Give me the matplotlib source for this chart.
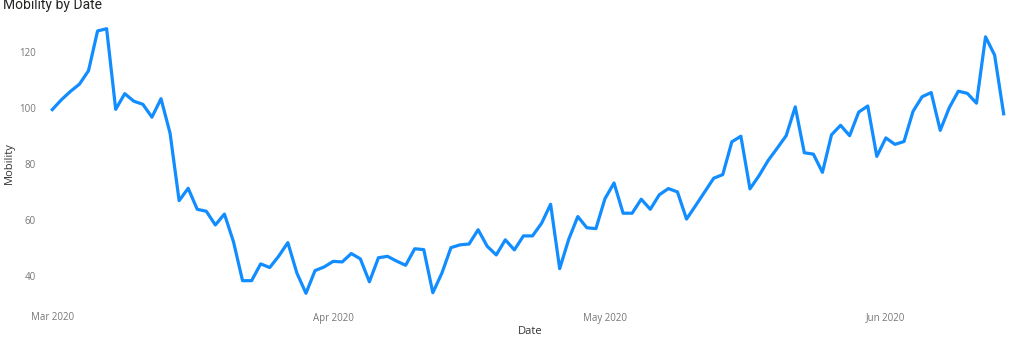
import numpy as np
import pandas as pd
import matplotlib
matplotlib.use("Agg")
import matplotlib.pyplot as plt
import matplotlib.dates as mdates

# daily mobility index, 1 Mar 2020 .. 14 Jun 2020
start = "2020-03-01"
mobility = [
    99.3, 102.8, 105.8, 108.4, 113.2, 127.4, 128.2, 99.4, 105.0, 102.3,
    101.2, 96.6, 103.2, 90.9, 66.8, 71.2, 63.7, 63.0, 58.1, 62.0,
    52.1, 38.2, 38.2, 44.2, 42.9, 47.0, 51.8, 40.9, 33.7, 41.8,
    43.1, 45.1, 44.9, 47.9, 46.0, 37.8, 46.4, 46.9, 45.2, 43.7,
    49.6, 49.3, 33.9, 40.9, 50.0, 51.0, 51.3, 56.4, 50.5, 47.4,
    52.8, 49.2, 54.2, 54.2, 58.7, 65.5, 42.5, 53.0, 61.1, 57.1,
    56.8, 67.5, 73.1, 62.3, 62.3, 67.3, 63.7, 68.9, 71.1, 69.9,
    60.2, 65.0, 69.9, 74.8, 76.1, 87.8, 89.8, 71.0, 75.7, 81.1,
    85.5, 90.0, 100.3, 83.9, 83.4, 76.9, 90.3, 93.7, 90.0, 98.4,
    100.6, 82.6, 89.2, 86.9, 87.9, 98.7, 103.9, 105.4, 91.9, 100.0,
    105.9, 105.1, 101.6, 125.3, 118.8, 97.8,
]
dates = pd.date_range(start, periods=len(mobility), freq="D")
yticks = [40, 60, 80, 100, 120]

fig = plt.figure(figsize=(10.23, 3.43), dpi=100)
ax = fig.add_axes([50 / 1023, 1 - 300 / 343, 960 / 1023, 278 / 343])

ax.plot(dates, mobility, color="#118DFF", lw=2.3, solid_joinstyle="round")

d0 = mdates.date2num(dates[0])
ax.set_xlim(d0 - 0.25, d0 + 105.7)
ax.set_ylim(31.3, 130.6)

ax.xaxis.set_major_locator(mdates.MonthLocator())
ax.xaxis.set_major_formatter(mdates.DateFormatter("%b %Y"))
ax.set_yticks(yticks)

for s in ax.spines.values():
    s.set_visible(False)
ax.tick_params(axis="both", length=0, labelsize=7, labelcolor="#777777")
ax.tick_params(axis="x", pad=9)
ax.tick_params(axis="y", pad=10)
for lab in ax.get_xticklabels() + ax.get_yticklabels():
    lab.set_fontfamily("Open Sans")

ax.set_xlabel("Date", fontsize=8, color="#333333", family="Open Sans")
ax.xaxis.set_label_coords(0.5, -0.093)
ax.set_ylabel("Mobility", fontsize=8, color="#333333", family="Open Sans")
ax.yaxis.set_label_coords(-0.0365, 0.493)

fig.text(3 / 1023, 1 - 9 / 343, "Mobility by Date", fontsize=10,
         color="#252423", family="Roboto", va="baseline", ha="left")

fig.savefig("out.png", dpi=100)
